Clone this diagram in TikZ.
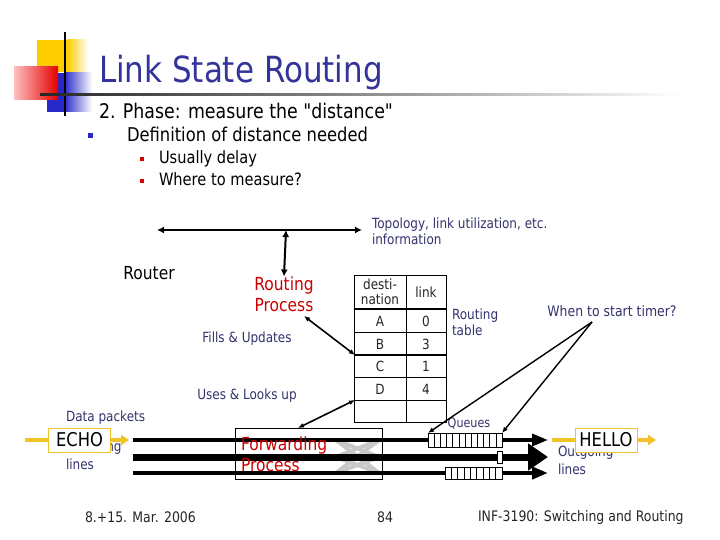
\documentclass[tikz,border=0pt]{standalone}
\usepackage{fontspec}
\setmainfont{DejaVu Sans}[FakeStretch=0.86, Ligatures=TeXOff]
\usetikzlibrary{arrows.meta}
\definecolor{navy}{RGB}{51,51,110}
\definecolor{ttl}{RGB}{51,51,153}
\definecolor{rproc}{RGB}{204,0,0}
\definecolor{ylw}{RGB}{240,196,40}
\definecolor{logoy}{RGB}{255,204,0}
\definecolor{logob}{RGB}{40,40,200}
\definecolor{lgray}{RGB}{200,200,200}
\newcommand{\fsz}[1]{\fontsize{#1}{\fpeval{1.2*#1}}\selectfont}
\newcommand{\fszl}[2]{\fontsize{#1}{#2}\selectfont}
\begin{document}
\begin{tikzpicture}[x=1pt,y=-1pt,
  txt/.style={inner sep=0pt, outer sep=0pt},
  small/.style={txt, text=navy, font=\fszl{14}{16}},
  redtxt/.style={txt, text=rproc, font=\fszl{18}{21}},
  foot/.style={txt, text=black!85, font=\fsz{14.5}},
  tabtxt/.style={txt, text=black!85, font=\fsz{14}},
  thinarr/.style={line width=1.6pt, {Latex[length=6pt,width=5pt]}-{Latex[length=6pt,width=5pt]}},
  onearr/.style={line width=1.4pt, -{Latex[length=6pt,width=5pt]}},
  busarr/.style={line width=2.6pt, {Latex[length=7pt,width=7pt]}-{Latex[length=7pt,width=7pt]}},
  cell/.style={draw=black, fill=white, line width=0.6pt},
  tag/.style={draw=ylw, fill=white, line width=0.8pt, font=\fsz{19}, inner sep=1pt, minimum height=24pt, minimum width=62pt},
  yarr/.style={draw=ylw, line width=4pt, -{Triangle[length=8pt,width=10pt]}},
  bull/.style={inner sep=0pt, minimum size=5pt}
]
\useasboundingbox[fill=white] (0,0) rectangle (720,540);

% ---- logo ----
\fill[logoy] (37,40) rectangle (67,72);
\shade[left color=logoy, right color=white] (67,40) rectangle (88,72);
\fill[logob] (47,73) rectangle (64,112);
\shade[left color=logob, right color=white] (64,73) rectangle (92,112);
\shade[left color=red!25, right color=red!90!black] (14,67) rectangle (58,100);
\draw[line width=2pt] (65,32) -- (65,116);
\shade[left color=black!85, right color=black!40] (40,94) rectangle (400,96);
\shade[left color=black!40, right color=white] (400,94) rectangle (680,96);

% ---- title and bullets ----
\node[txt, anchor=base west, text=ttl, font=\fsz{36}] (title) at (99,83) {Link State Routing};
\node[txt, anchor=base west, font=\fsz{20.2}] (phase) at (99,119) {2. Phase: measure the "distance"};
\node[bull, fill=logob] (b1) at (90,136) {};
\node[txt, anchor=base west, font=\fsz{19}] (def) at (127,142) {Definition of distance needed};
\node[bull, minimum size=4.5pt, fill=red!85!black] (b2) at (142,159) {};
\node[txt, anchor=base west, font=\fsz{17}] (usu) at (159,164) {Usually delay};
\node[bull, minimum size=4.5pt, fill=red!85!black] (b3) at (142,181) {};
\node[txt, anchor=base west, font=\fsz{17}] (where) at (159,186) {Where to measure?};

% ---- routing process part ----
\coordinate (busL) at (157,230);
\coordinate (busR) at (362,230);
\coordinate (busM) at (286,230);
\draw[busarr] (busL) -- (busR);
\node[small, anchor=north west, align=left] (topo) at (372,218) {Topology, link utilization, etc.\\information};
\node[txt, font=\fsz{18}] (router) at (149,273) {Router};
\node[redtxt, align=center] (rp) at (284,294) {Routing\\Process};
\draw[busarr, line width=2pt] (busM) -- (rp.north);

% table
\coordinate (tNW) at (354,275);
\draw[line width=0.8pt] (354,275) rectangle (446,422);
\draw[line width=0.8pt] (406,275) -- (406,422);
\draw[line width=2.6pt] (354,309) -- (446,309);
\draw[line width=0.8pt] (354,332) -- (446,332);
\draw[line width=2.6pt] (354,355) -- (446,355);
\draw[line width=0.8pt] (354,377) -- (446,377);
\draw[line width=0.8pt] (354,400) -- (446,400);
\node[tabtxt, font=\fszl{14}{15}, align=center] (hdest) at (380,292) {desti-\\nation};
\node[tabtxt] (hlink) at (426,292) {link};
\node[tabtxt] (dA) at (380,321) {A};
\node[tabtxt] (lA) at (426,321) {0};
\node[tabtxt] (dB) at (380,344) {B};
\node[tabtxt] (lB) at (426,344) {3};
\node[tabtxt] (dC) at (380,366) {C};
\node[tabtxt] (lC) at (426,366) {1};
\node[tabtxt] (dD) at (380,389) {D};
\node[tabtxt] (lD) at (426,389) {4};
\coordinate (tFill) at (355,355);
\coordinate (tUse) at (355,400);
\node[small, anchor=north west, align=left] (rtab) at (452,309) {Routing\\table};
\node[small] (fills) at (247,339) {Fills \& Updates};
\node[small] (uses) at (247,396) {Uses \& Looks up};
\coordinate (rpOut) at (304,316);
\draw[thinarr] (rpOut) -- (tFill);

% ---- forwarding ----
\node[draw=black, line width=0.8pt, fill=white, minimum width=147pt, minimum height=51pt, inner sep=0pt] (fp) at (308.5,453.5) {};
\foreach \a in {440,457,473}{\foreach \b in {440,457,473}{
  \draw[lgray, line width=4pt] (336,\a) -- (379,\b);}}
\coordinate (fpTop) at (298,428);
\draw[thinarr] (tUse) -- (fpTop);

% lines
\coordinate (in1) at (133,440);
\coordinate (in2) at (133,457);
\coordinate (in3) at (133,473);
\coordinate (out1) at (548,440);
\coordinate (out2) at (548,457);
\coordinate (out3) at (548,473);
\draw[line width=3.5pt, -{Triangle[length=16pt,width=12pt]}] (in1) -- (out1);
\draw[line width=7pt, -{Triangle[length=20pt,width=26pt]}] (in2) -- (out2);
\draw[line width=4pt, -{Triangle[length=16pt,width=12pt]}] (in3) -- (out3);

% queues
\foreach \i in {0,...,11}{\draw[cell] ({428+\i*74/12},433) rectangle ({428+(\i+1)*74/12},447);}
\foreach \i in {0,...,8}{\draw[cell] ({445+\i*57/9},467) rectangle ({445+(\i+1)*57/9},479);}
\draw[cell] (497,451) rectangle (502,463);
\coordinate (q1) at (428,433);
\coordinate (q2) at (502,433);
\node[small, font=\fsz{13}] (queues) at (469,424) {Queues};

\node[redtxt, anchor=north west, align=left] (fpt) at (241,437) {Forwarding\\Process};

\node[small, font=\fsz{14.5}] (timer) at (612,311) {When to start timer?};
\coordinate (tm) at (592,322);
\draw[onearr] (tm) -- (q1);
\draw[onearr] (tm) -- (q2);

% ---- incoming / outgoing ----
\node[small, anchor=west] (dp) at (66,418) {Data packets};
\node[small, anchor=west] (inc) at (66,448) {Incoming};
\node[small, anchor=west] (lin) at (66,464) {lines};
\coordinate (e1) at (25,440);
\coordinate (e2) at (129,440);
\draw[yarr] (e1) -- (e2);
\node[tag] (echo) at (79.5,440) {ECHO};

\node[small, anchor=west] (outg) at (558,453) {Outgoing};
\node[small, anchor=west] (olin) at (558,469) {lines};
\coordinate (h1) at (552,440);
\coordinate (h2) at (656,440);
\draw[yarr] (h1) -- (h2);
\node[tag] (hello) at (606,440) {HELLO};

% ---- footer ----
\node[foot, anchor=west] (date) at (85,517) {8.+15. Mar. 2006};
\node[foot] (pg) at (385,517) {84};
\node[foot, anchor=west] (course) at (478,517) {INF-3190: Switching and Routing};
\end{tikzpicture}
\end{document}
